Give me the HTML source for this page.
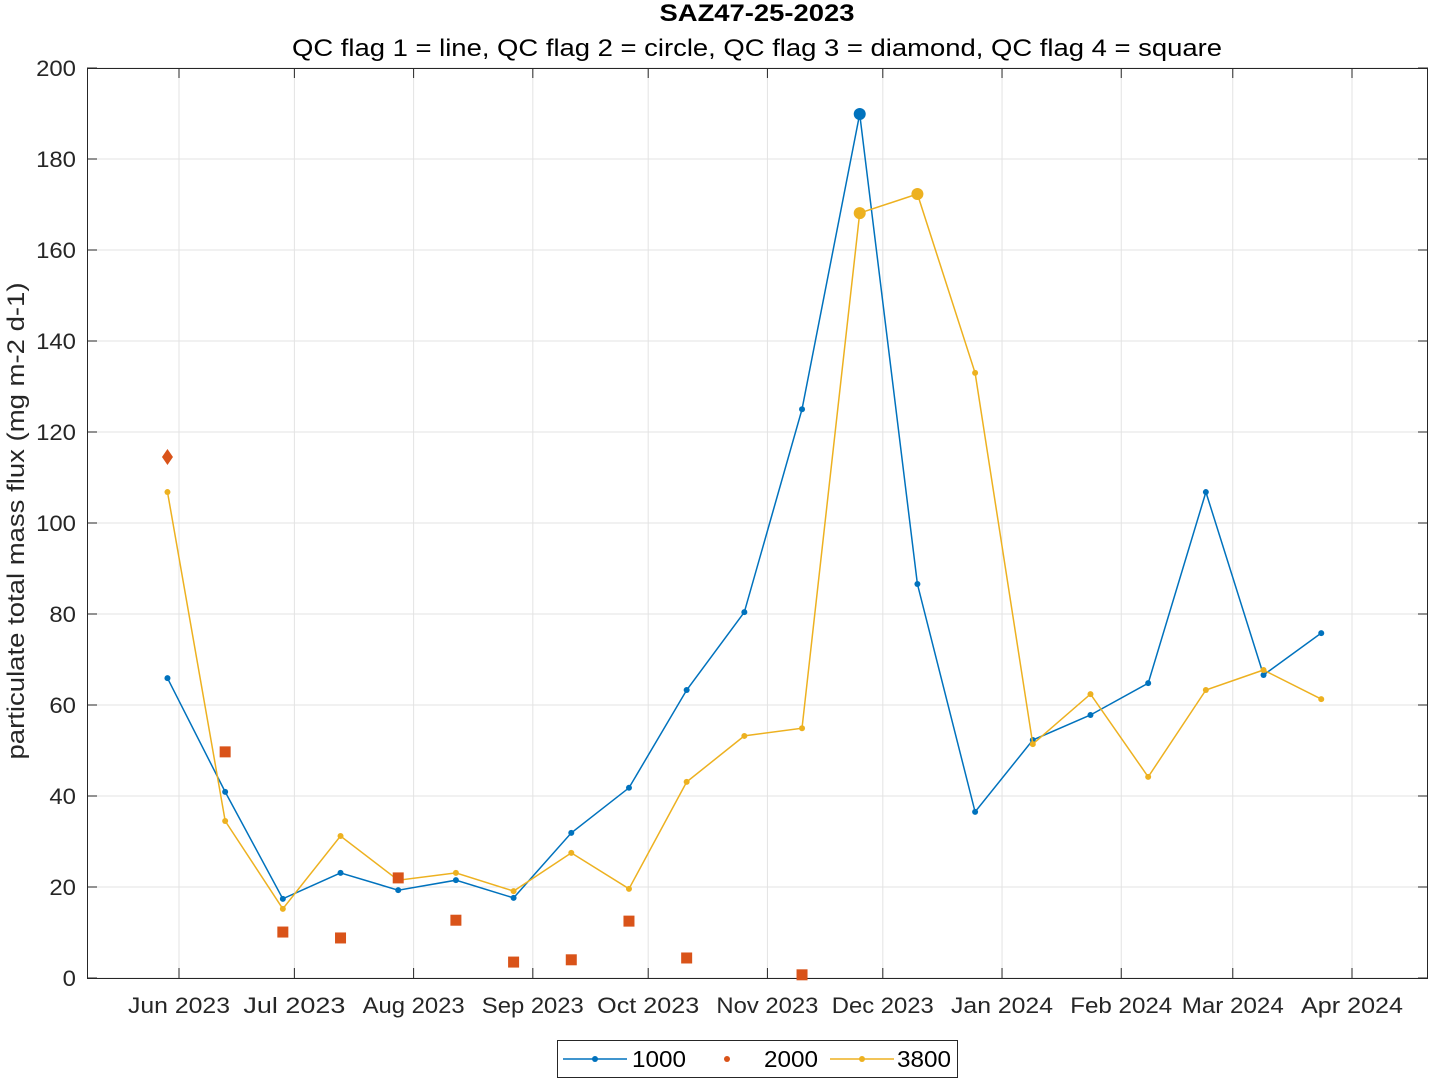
<!DOCTYPE html>
<html><head><meta charset="utf-8"><style>
html,body{margin:0;padding:0;background:#fff;}
svg{display:block;font-family:"Liberation Sans",Arial,sans-serif;}
</style></head><body>
<svg id="chart" width="1431" height="1080" viewBox="0 0 1431 1080" xmlns="http://www.w3.org/2000/svg">
<rect width="1431" height="1080" fill="#fff"/>
<g id="grid"></g><g id="axes"></g><g id="series"></g>
<text x="757" y="21" text-anchor="middle" font-size="24" font-weight="bold" fill="#000" textLength="195" lengthAdjust="spacingAndGlyphs">SAZ47-25-2023</text>
<text x="757" y="56" text-anchor="middle" font-size="24" fill="#000" textLength="930" lengthAdjust="spacingAndGlyphs">QC flag 1 = line, QC flag 2 = circle, QC flag 3 = diamond, QC flag 4 = square</text>
<text transform="translate(24,521) rotate(-90)" text-anchor="middle" font-size="24" fill="#262626" textLength="477" lengthAdjust="spacingAndGlyphs">particulate total mass flux (mg m-2 d-1)</text>
<g>
<rect x="557.5" y="1040.5" width="400" height="37" fill="#fff" stroke="#262626"/>
<line x1="563" y1="1059" x2="627" y2="1059" stroke="#0072BD" stroke-width="1.5"/><circle cx="595" cy="1059" r="3" fill="#0072BD"/>
<text x="632" y="1067" font-size="23" fill="#000" textLength="54" lengthAdjust="spacingAndGlyphs">1000</text>
<circle cx="727" cy="1059" r="3" fill="#D95319"/>
<text x="764" y="1067" font-size="23" fill="#000" textLength="54" lengthAdjust="spacingAndGlyphs">2000</text>
<line x1="830" y1="1059" x2="894" y2="1059" stroke="#EDB120" stroke-width="1.5"/><circle cx="862" cy="1059" r="3" fill="#EDB120"/>
<text x="897" y="1067" font-size="23" fill="#000" textLength="54" lengthAdjust="spacingAndGlyphs">3800</text>
</g>
</svg>
<script>
const dates=["2023-05-29","2023-06-13","2023-06-28","2023-07-13","2023-07-28","2023-08-12","2023-08-27","2023-09-11","2023-09-26","2023-10-11","2023-10-26","2023-11-10","2023-11-25","2023-12-10","2023-12-25","2024-01-09","2024-01-24","2024-02-08","2024-02-23","2024-03-09","2024-03-24"];
const s1000=[65.9,40.9,17.4,23.1,19.3,21.5,17.6,31.9,41.8,63.3,80.4,125,189.9,86.6,36.5,52.3,57.8,64.8,106.8,66.6,75.8];
const q1000=[1,1,1,1,1,1,1,1,1,1,1,1,2,1,1,1,1,1,1,1,1];
const s3800=[106.8,34.5,15.2,31.2,21.5,23.1,19.1,27.5,19.6,43.1,53.2,54.9,168.1,172.3,133,51.4,62.4,44.2,63.3,67.7,61.3];
const q3800=[1,1,1,1,1,1,1,1,1,1,1,1,2,2,1,1,1,1,1,1,1];
const s2000=[114.5,49.7,10.1,8.8,22,12.7,3.5,4,12.5,4.4,null,0.7,null,null,null,null,null,null,null,null,null];
const q2000=[3,4,4,4,4,4,4,4,4,4,4,4,4,4,4,4,4,4,4,4,4];
const monthTicks=["2023-06-01","2023-07-01","2023-08-01","2023-09-01","2023-10-01","2023-11-01","2023-12-01","2024-01-01","2024-02-01","2024-03-01","2024-04-01"];
const monthLabels=["Jun 2023","Jul 2023","Aug 2023","Sep 2023","Oct 2023","Nov 2023","Dec 2023","Jan 2024","Feb 2024","Mar 2024","Apr 2024"];
const yTicks=[0,20,40,60,80,100,120,140,160,180,200];
const NS="http://www.w3.org/2000/svg";
const L=87,R=1428,T=68,B=978;
const ms=s=>Date.parse(s+"T00:00:00Z");
const x0=ms("2023-06-01"),pxDay=(1352-179)/305;
const X=d=>179+(ms(d)-x0)/86400000*pxDay;
const Y=v=>B-(v/200)*(B-T);
function el(t,a,p){const e=document.createElementNS(NS,t);for(const k in a)e.setAttribute(k,a[k]);document.getElementById(p).appendChild(e);return e;}
yTicks.forEach(v=>{const y=Y(v);
 const g=el("line",{x1:L,x2:R,y1:y,y2:y,stroke:"#e3e3e3"},"grid");
 
 
 el("line",{x1:L,x2:L+10,y1:y,y2:y,stroke:"#262626"},"axes");
 el("line",{x1:R,x2:R-10,y1:y,y2:y,stroke:"#262626"},"axes");
 const s=String(v);
 const t=el("text",{x:L-11,y:y+8,"text-anchor":"end","font-size":"22",fill:"#262626",textLength:13.3*s.length,lengthAdjust:"spacingAndGlyphs"},"axes");t.textContent=s;
 
 
});
monthTicks.forEach((d,i)=>{const x=X(d);
 const g=el("line",{x1:x,x2:x,y1:T,y2:B,stroke:"#e3e3e3"},"grid");
 
 
 el("line",{x1:x,x2:x,y1:B,y2:B-10,stroke:"#262626"},"axes");
 el("line",{x1:x,x2:x,y1:T,y2:T+10,stroke:"#262626"},"axes");
 const t=el("text",{x:x,y:1013,"text-anchor":"middle","font-size":"22",fill:"#262626",textLength:102,lengthAdjust:"spacingAndGlyphs"},"axes");t.textContent=monthLabels[i];
 
 
});
const box=el("rect",{x:L+0.5,y:T+0.5,width:R-L-1,height:B-T,fill:"none",stroke:"#262626"},"axes");


function line(vals,qs,col,name){
 const pts=[];vals.forEach((v,i)=>{if(v!==null)pts.push(X(dates[i]).toFixed(1)+","+Y(v).toFixed(1));});
 const p=el("polyline",{points:pts.join(" "),fill:"none",stroke:col,"stroke-width":"1.5"},"series");
 
 
 vals.forEach((v,i)=>{if(v===null)return;
  const c=el("circle",{cx:X(dates[i]),cy:Y(v),r:qs[i]===2?6:3,fill:col},"series");
  
  
 });
}
line(s1000,q1000,"#0072BD","series-1000");
line(s3800,q3800,"#EDB120","series-3800");
s2000.forEach((v,i)=>{if(v===null)return;const x=X(dates[i]),y=Y(v);let m;
 if(q2000[i]===3){m=el("polygon",{points:`${x},${y-8} ${x+5.5},${y} ${x},${y+8} ${x-5.5},${y}`,fill:"#D95319"},"series");}
 else if(q2000[i]===4){m=el("rect",{x:x-5.5,y:y-5.5,width:11,height:11,fill:"#D95319"},"series");}
 else{m=el("circle",{cx:x,cy:y,r:3,fill:"#D95319"},"series");}
 
 
});
</script>
</body></html>
